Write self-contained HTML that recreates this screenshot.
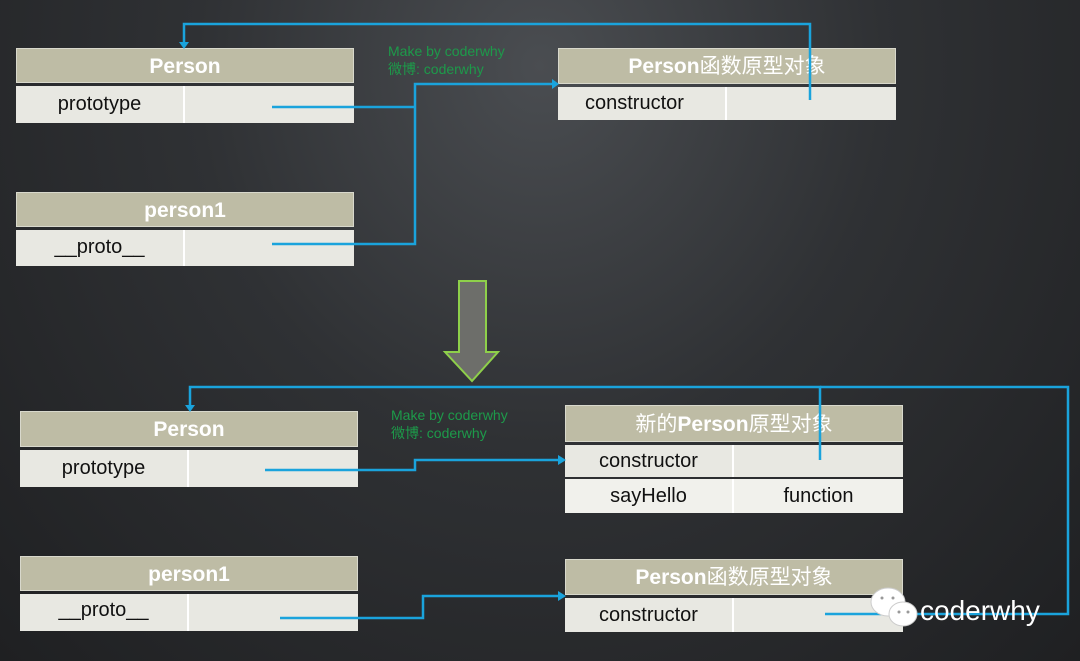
<!DOCTYPE html>
<html><head><meta charset="utf-8"><style>
body{margin:0;width:1080px;height:661px;overflow:hidden;background:radial-gradient(ellipse at 50% 10%,#4a4d51 0%,#2f3134 45%,#1f2022 100%);font-family:"Liberation Sans","Noto Sans CJK SC",sans-serif;position:relative}
.b{position:absolute;width:338px}
.h{background:#bebca5;color:#fff;font-weight:bold;font-size:21px;text-align:center;border:1px solid #d8d8cc;box-sizing:border-box}
.r{display:flex;background:#e8e8e2;margin-top:3px;font-size:20px;color:#111}
.r div{box-sizing:border-box;text-align:center}
.r div:first-child{width:169px;border-right:2px solid #fff}
.r div:last-child{flex:1}
.cj{font-weight:normal}
svg{position:absolute;left:0;top:0}
.wm{position:absolute;color:#1d9a4a;font-size:14px;line-height:18px}
</style></head><body>
<div class="b" style="left:16px;top:48px"><div class="h" style="height:35px;line-height:35px">Person</div><div class="r" style="height:37px;line-height:37px"><div>prototype</div><div></div></div></div>
<div class="b" style="left:16px;top:192px"><div class="h" style="height:35px;line-height:35px">person1</div><div class="r" style="height:36px;line-height:34px"><div>__proto__</div><div></div></div></div>
<div class="b" style="left:558px;top:48px"><div class="h" style="height:36px;line-height:36px">Person<span class="cj">函数原型对象</span></div><div class="r" style="height:33px;line-height:33px"><div style="text-align:left;padding-left:27px">constructor</div><div></div></div></div>

<div class="b" style="left:20px;top:411px"><div class="h" style="height:36px;line-height:36px">Person</div><div class="r" style="height:37px;line-height:37px"><div>prototype</div><div></div></div></div>
<div class="b" style="left:20px;top:556px"><div class="h" style="height:35px;line-height:35px">person1</div><div class="r" style="height:37px;line-height:33px"><div>__proto__</div><div></div></div></div>
<div class="b" style="left:565px;top:405px"><div class="h" style="height:37px;line-height:37px"><span class="cj">新的</span>Person<span class="cj">原型对象</span></div><div class="r" style="height:32px;line-height:32px"><div>constructor</div><div></div></div><div class="r" style="height:34px;line-height:34px;margin-top:2px;background:#f1f1ec"><div>sayHello</div><div>function</div></div></div>
<div class="b" style="left:565px;top:559px"><div class="h" style="height:36px;line-height:36px">Person<span class="cj">函数原型对象</span></div><div class="r" style="height:34px;line-height:34px"><div>constructor</div><div></div></div></div>

<div class="wm" style="left:388px;top:42px">Make by coderwhy<br>微博: coderwhy</div>
<div class="wm" style="left:391px;top:406px">Make by coderwhy<br>微博: coderwhy</div>

<svg width="1080" height="661">
<g stroke="#1aa3dc" stroke-width="2.5" fill="none">
<polyline points="810,100 810,24 184,24 184,44"/>
<polyline points="272,107 415,107"/>
<polyline points="272,244 415,244 415,84 553,84"/>
<polyline points="820,460 820,387 190,387 190,407"/>
<polyline points="825,614 1068,614 1068,387 820,387"/>
<polyline points="265,470 415,470 415,460 560,460"/>
<polyline points="280,618 423,618 423,596 560,596"/>
</g>
<g fill="#1aa3dc">
<polygon points="179,42 189,42 184,49"/>
<polygon points="552,79 552,89 559,84"/>
<polygon points="185,405 195,405 190,412"/>
<polygon points="558,455 558,465 566,460"/>
<polygon points="558,591 558,601 566,596"/>
</g>
<polygon points="459,281 486,281 486,352 498,352 472,381 445,352 459,352" fill="#6d6e6a" stroke="#8ed04a" stroke-width="2"/>
<g fill="#fff" stroke="#ccc" stroke-width="1">
<ellipse cx="888" cy="602" rx="17" ry="14"/>
<ellipse cx="903" cy="614" rx="14" ry="12"/>
</g>
<g fill="#999"><circle cx="882" cy="598" r="1.5"/><circle cx="893" cy="598" r="1.5"/><circle cx="899" cy="612" r="1.5"/><circle cx="908" cy="612" r="1.5"/></g>
<text x="920" y="620" fill="#fff" font-size="28" font-family="Liberation Sans,sans-serif">coderwhy</text>
</svg>
</body></html>
